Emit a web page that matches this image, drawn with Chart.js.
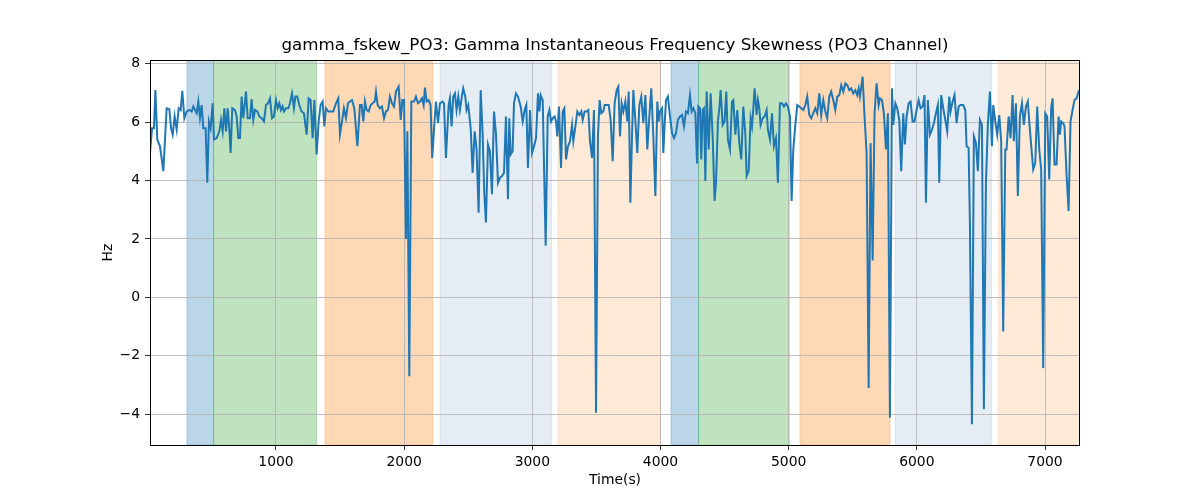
<!DOCTYPE html>
<html lang="en">
<head>
  <meta charset="UTF-8">
  <title>gamma_fskew_PO3</title>
  <script src="https://cdn.jsdelivr.net/npm/chart.js"></script>
  <style>
    body {
      margin: 0;
      padding: 0;
      background-color: #ffffff;
    }
  </style>
</head>
<body>
  <canvas id="skewChart" width="1200" height="500"></canvas>

  <script>
    // time stamps (s) and skewness values (Hz)
    const times = [
      17, 33, 48, 59, 74, 95, 121, 147, 168, 181, 194, 209, 225, 241, 256, 269, 285, 303, 324, 342,
      355, 368, 381, 394, 407, 420, 433, 451, 464, 477, 490, 506, 516, 537, 558, 571, 584, 597, 610, 623,
      636, 646, 659, 680, 693, 706, 719, 732, 745, 766, 779, 797, 810, 823, 836, 854, 870, 888, 906, 922,
      938, 953, 969, 984, 1000, 1013, 1026, 1039, 1052, 1062, 1078, 1096, 1109, 1125, 1140, 1151, 1166, 1182, 1200, 1218,
      1239, 1255, 1270, 1286, 1299, 1317, 1333, 1348, 1364, 1377, 1390, 1408, 1426, 1447, 1468, 1486,
      1499, 1515, 1530, 1546, 1562, 1577, 1593, 1611, 1635, 1655, 1668, 1681, 1694, 1707, 1723, 1739, 1754, 1770, 1780, 1793,
      1811, 1827, 1843, 1858, 1874, 1889, 1905, 1921, 1936, 1957, 1973, 1986, 1999, 2014, 2025, 2040, 2056, 2077, 2092, 2108,
      2123, 2139, 2152, 2162, 2175, 2191, 2206, 2219, 2235, 2248, 2264, 2279, 2300, 2311, 2326, 2347, 2357, 2370, 2383, 2396,
      2409, 2422, 2435, 2448, 2461, 2477, 2487, 2500, 2519, 2534, 2550, 2565, 2581, 2597, 2612, 2625, 2638, 2654, 2669, 2685,
      2701, 2716, 2732, 2747, 2763, 2779, 2794, 2810, 2820, 2831, 2846, 2857, 2872, 2888,
      2909, 2925, 2940, 2953, 2966, 2982, 2998, 3013, 3029, 3044, 3055, 3065, 3081, 3104, 3120, 3133, 3146, 3159, 3174, 3185,
      3195, 3208, 3224, 3237, 3250, 3263, 3278, 3294, 3310, 3320, 3336, 3351, 3367, 3382, 3393, 3408, 3424, 3437, 3450, 3466,
      3481, 3497, 3512, 3525, 3538, 3554, 3564, 3580, 3596, 3611, 3627, 3642, 3658, 3671, 3684, 3697, 3710, 3726, 3741, 3752,
      3765, 3778, 3788, 3804, 3819, 3835, 3850, 3866, 3882, 3897, 3913, 3928, 3944, 3960, 3975, 3986, 3996, 4012, 4022, 4032,
      4043, 4058, 4074, 4090, 4105, 4121, 4136, 4152, 4168, 4183, 4199, 4214, 4230, 4243, 4256, 4272, 4285,
      4295, 4308, 4318, 4329, 4339, 4350, 4360, 4376, 4391, 4407, 4422, 4433, 4448, 4459, 4469, 4485, 4500, 4513, 4526, 4542,
      4558, 4568, 4584, 4599, 4615, 4630, 4646, 4662, 4672, 4688, 4703, 4714, 4724, 4734, 4750, 4760, 4771, 4781, 4797, 4812,
      4828, 4838, 4854, 4870, 4885, 4901, 4916, 4932, 4948, 4963, 4979, 4994, 5010, 5023, 5036, 5052, 5067, 5083, 5098, 5114,
      5130, 5145, 5161, 5176, 5192, 5208, 5223, 5239, 5254, 5270, 5286, 5301, 5317, 5332, 5348, 5364, 5379, 5395, 5410, 5426,
      5442, 5457, 5473, 5488, 5504, 5520, 5535, 5546, 5556,
      5577, 5592, 5608, 5624, 5639, 5655, 5670, 5686, 5702, 5712, 5728, 5743, 5759, 5774, 5790, 5806, 5816, 5832, 5847, 5863,
      5878, 5894, 5907, 5920, 5936, 5951, 5967, 5982, 5998, 6014, 6029, 6045, 6060, 6071, 6086, 6102, 6118, 6133, 6149, 6164,
      6175, 6190, 6206, 6222, 6237, 6253, 6263, 6279, 6294, 6310, 6326, 6341, 6362, 6378, 6388, 6404, 6414, 6430, 6445, 6461,
      6476, 6492, 6508, 6523, 6539, 6554, 6570, 6586, 6596, 6612, 6627, 6643, 6658, 6674, 6690, 6700, 6716, 6731, 6747, 6757,
      6773, 6788, 6804, 6820, 6835, 6851, 6866, 6882, 6898, 6908, 6924, 6939, 6955, 6970, 6986, 7002, 7017, 7033, 7048, 7059,
      7074, 7090, 7106, 7116, 7126, 7142, 7152, 7168, 7184, 7199, 7215, 7230, 7246, 7262, 7272
    ];
    const skewHz = [
      4.94, 5.79, 5.79, 7.09, 5.40, 5.17, 4.32, 6.47, 6.44, 5.79, 5.57, 6.19, 5.74, 6.47, 6.41, 7.07, 6.13, 6.36, 6.41, 6.36,
      6.53, 6.41, 6.30, 6.70, 6.13, 6.58, 5.79, 5.79, 3.92, 6.02, 5.79, 6.64, 5.40, 5.45, 5.68, 6.07, 5.68, 6.47, 5.68, 6.47,
      5.74, 4.94, 6.47, 6.41, 6.19, 5.45, 5.45, 6.87, 6.13, 7.04, 6.13, 6.13, 6.78, 6.07, 6.41, 6.36, 6.19, 6.13, 6.02, 6.58,
      6.64, 6.81, 6.13, 6.19, 6.75, 6.47, 6.64, 6.41, 6.53, 6.36, 6.47, 6.47, 6.64, 6.98, 6.47, 6.87, 6.87, 6.58, 6.36, 6.30,
      5.57, 6.81, 6.75, 5.45, 6.75, 4.89, 6.02, 6.58, 6.70, 5.85, 6.47, 6.36, 6.36, 6.36, 6.64, 6.81,
      5.57, 6.02, 6.47, 6.13, 6.64, 6.70, 6.75, 6.47, 5.17, 6.58, 6.58, 6.02, 6.70, 6.41, 6.36, 6.58, 6.64, 6.70, 7.04, 6.58,
      6.47, 6.53, 6.13, 6.36, 6.41, 6.87, 6.64, 6.53, 7.04, 7.21, 6.07, 6.75, 6.75, 2.00, 5.68, -2.70, 6.70, 6.70, 6.87, 6.64,
      6.70, 6.81, 6.58, 7.18, 6.70, 6.75, 6.58, 4.77, 5.90, 6.70, 5.96, 6.64, 6.70, 6.64, 4.77, 6.58, 6.81, 5.85, 6.87, 6.98,
      6.41, 6.87, 6.41, 6.81, 7.15, 6.87, 6.41, 6.58, 5.79, 4.26, 5.68, 5.06, 2.90, 7.09, 5.62, 3.58, 2.56, 5.23, 5.00, 3.53,
      6.36, 5.62, 3.92, 4.09, 4.15, 4.26, 6.19, 3.36, 6.13, 4.89, 5.00, 6.64, 6.98, 6.87,
      6.53, 6.02, 6.41, 6.58, 4.43, 6.41, 4.94, 5.17, 5.45, 6.98, 6.36, 6.92, 6.75, 1.77, 6.19, 6.41, 6.02, 6.13, 6.19, 6.02,
      5.51, 6.53, 4.43, 6.36, 6.47, 4.72, 5.17, 5.34, 5.90, 5.34, 5.85, 6.36, 6.24, 6.36, 6.07, 6.36, 6.36, 6.41, 5.34, 4.77,
      6.41, -3.95, 5.51, 6.75, 6.30, 6.36, 6.58, 6.58, 6.58, 6.07, 4.66, 6.64, 7.09, 7.21, 5.51, 6.64, 6.36, 6.70, 6.02, 7.04,
      3.24, 5.57, 7.09, 6.02, 4.94, 6.58, 6.87, 5.96, 6.92, 5.06, 6.19, 7.15, 5.51, 3.47, 6.70, 6.02, 6.36, 6.47, 4.94, 5.90,
      6.75, 6.87, 6.19, 5.62, 5.45, 5.62, 6.07, 6.19, 6.24, 5.85, 6.36, 6.30, 6.92, 6.36, 6.47, 6.30, 4.58,
      6.53, 6.47, 4.72, 6.41, 6.47, 3.98, 7.04, 5.06, 6.98, 5.51, 3.30, 3.92, 6.02, 6.47, 7.09, 5.90, 6.02, 7.04, 5.40, 5.06,
      6.70, 6.75, 5.57, 6.41, 5.28, 4.72, 6.53, 5.57, 4.15, 4.32, 6.13, 5.85, 6.47, 7.15, 6.24, 6.75, 6.47, 5.90, 6.13, 6.19,
      6.41, 5.74, 5.40, 6.30, 5.17, 5.45, 3.92, 6.64, 6.64, 6.53, 6.64, 6.53, 6.19, 3.30, 5.06, 5.90, 6.58, 6.53, 6.47, 6.41,
      6.58, 6.87, 6.24, 6.13, 6.30, 6.47, 6.30, 6.98, 6.24, 6.75, 6.36, 6.13, 6.87, 7.04, 6.75, 6.41, 6.87, 6.92, 7.26, 7.04,
      7.32, 7.26, 7.09, 7.15, 6.98, 7.09, 6.92, 7.15, 6.87,
      7.55, 6.19, 4.94, -3.10, 5.28, 1.26, 6.30, 7.32, 6.58, 6.81, 6.75, 6.30, 5.06, 6.30, -4.12, 7.15, 5.90, 6.64, 6.47, 6.07,
      4.32, 6.30, 5.23, 6.19, 6.64, 6.70, 6.02, 6.02, 6.41, 6.75, 6.47, 6.53, 6.92, 3.24, 6.75, 5.57, 5.74, 5.96, 6.30, 6.58,
      3.92, 6.92, 6.47, 6.07, 5.68, 6.87, 6.36, 6.70, 6.92, 5.96, 6.53, 6.58, 6.58, 6.41, 5.17, 5.11, 2.56, -4.34, 5.51, 5.28,
      4.32, 6.07, 5.90, -3.83, 3.92, 5.90, 7.04, 5.17, 6.58, 6.02, 5.57, 6.24, 5.34, -1.17, 5.06, 5.06, 6.19, 5.45, 6.92, 5.34,
      6.64, 3.47, 6.19, 6.64, 5.90, 6.53, 6.70, 5.74, 4.89, 4.38, 4.60, 6.53, 5.06, 4.38, -2.42, 6.30, 6.19, 4.03, 6.47, 6.81,
      4.55, 4.55, 6.19, 5.57, 6.02, 5.96, 5.85, 4.21, 2.96, 6.02, 6.41, 6.75, 6.81, 7.04, 6.98
    ];

    // shaded phases (start, end in seconds) and their kind
    const spanStart = [305, 513, 1382, 2280, 3200, 4082, 4297, 5088, 5830, 6635];
    const spanEnd   = [513, 1317, 2221, 3150, 4000, 4297, 5004, 5790, 6583, 7273];
    const spanKind  = ['blue', 'green', 'orange', 'ltblue', 'ltorange', 'blue', 'green', 'orange', 'ltblue', 'ltorange'];

    const xTicks = [1000, 2000, 3000, 4000, 5000, 6000, 7000];
    const yTicks = [-4, -2, 0, 2, 4, 6, 8];

    const kindColors = {
      blue: 'rgba(31, 119, 180, 0.3)',
      green: 'rgba(44, 160, 44, 0.3)',
      orange: 'rgba(255, 127, 14, 0.3)',
      ltblue: 'rgba(176, 196, 222, 0.32)',
      ltorange: 'rgba(255, 127, 14, 0.16)'
    };

    const FONT = '"DejaVu Sans", sans-serif';

    // axvspan-like bands, under the grid
    const spanPlugin = {
      id: 'spans',
      beforeDraw(chart) {
        const ctx = chart.ctx;
        const x = chart.scales.x;
        const area = chart.chartArea;
        ctx.save();
        ctx.beginPath();
        ctx.rect(area.left, area.top, area.right - area.left, area.bottom - area.top);
        ctx.clip();
        for (let i = 0; i < spanStart.length; i++) {
          const x0 = x.getPixelForValue(spanStart[i]);
          const x1 = x.getPixelForValue(spanEnd[i]);
          ctx.fillStyle = kindColors[spanKind[i]];
          ctx.fillRect(x0, area.top, x1 - x0, area.bottom - area.top);
          ctx.strokeStyle = kindColors[spanKind[i]];
          ctx.lineWidth = 1;
          ctx.strokeRect(x0, area.top, x1 - x0, area.bottom - area.top);
        }
        ctx.restore();
      }
    };

    // black frame round the axes
    const framePlugin = {
      id: 'frame',
      afterDatasetsDraw(chart) {
        const ctx = chart.ctx;
        const a = chart.chartArea;
        ctx.save();
        ctx.strokeStyle = '#000';
        ctx.lineWidth = 1;
        ctx.strokeRect(Math.round(a.left) + 0.5, Math.round(a.top) + 0.5,
          Math.round(a.right - a.left) - 1, Math.round(a.bottom - a.top));
        ctx.restore();
      }
    };

    const points = times.map((t, i) => ({ x: t, y: skewHz[i] }));

    const ctx = document.getElementById('skewChart').getContext('2d');
    new Chart(ctx, {
      type: 'line',
      data: {
        datasets: [{
          label: 'gamma_fskew_PO3',
          data: points,
          borderColor: '#1f77b4',
          borderWidth: 2,
          pointRadius: 0,
          tension: 0,
          fill: false
        }]
      },
      options: {
        responsive: false,
        devicePixelRatio: 1,
        animation: false,
        parsing: false,
        layout: { padding: { top: 0, right: 120, bottom: 0, left: 0 } },
        plugins: {
          legend: { display: false },
          tooltip: { enabled: false },
          title: {
            display: true,
            fullSize: false,
            text: 'gamma_fskew_PO3: Gamma Instantaneous Frequency Skewness (PO3 Channel)',
            color: '#000',
            font: { family: FONT, size: 16.7, weight: 'normal' },
            padding: { top: 36, bottom: 4 }
          }
        },
        scales: {
          x: {
            type: 'linear',
            min: 17,
            max: 7273,
            afterBuildTicks: (axis) => { axis.ticks = xTicks.map(v => ({ value: v })); },
            afterFit: (axis) => { axis.height = 55; },
            border: { display: false },
            grid: { color: '#b0b0b0', lineWidth: 0.8, tickLength: 5, tickColor: '#000' },
            ticks: {
              color: '#000',
              padding: 4,
              maxRotation: 0,
              font: { family: FONT, size: 13.9 },
              callback: (v) => String(v)
            },
            title: {
              display: true,
              text: 'Time(s)',
              color: '#000',
              font: { family: FONT, size: 13.9 },
              padding: { top: 0, bottom: 11 }
            }
          },
          y: {
            type: 'linear',
            min: -5.05,
            max: 8.12,
            afterBuildTicks: (axis) => { axis.ticks = yTicks.map(v => ({ value: v })); },
            afterFit: (axis) => { axis.width = 150; },
            border: { display: false },
            grid: { color: '#b0b0b0', lineWidth: 0.8, tickLength: 5, tickColor: '#000' },
            ticks: {
              color: '#000',
              padding: 5,
              font: { family: FONT, size: 13.9 },
              callback: (v) => String(v).replace('-', '\u2212')
            },
            title: {
              display: true,
              text: 'Hz',
              color: '#000',
              font: { family: FONT, size: 13.9 },
              padding: { top: 100, bottom: 0 }
            }
          }
        }
      },
      plugins: [spanPlugin, framePlugin]
    });
  </script>
</body>
</html>
